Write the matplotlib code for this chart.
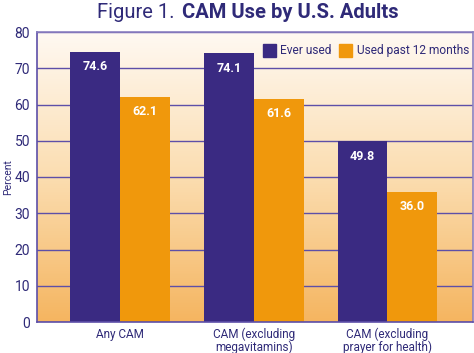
import numpy as np
from matplotlib import pyplot as plt
from matplotlib.colors import LinearSegmentedColormap
from matplotlib.patches import Patch

categories = ["Any CAM", "CAM (excluding\nmegavitamins)", "CAM (excluding\nprayer for health)"]
ever_used = [74.6, 74.1, 49.8]
past_12 = [62.1, 61.6, 36.0]
series_names = ["Ever used", "Used past 12 months"]

purple = "#3A2A82"
orange = "#F0980C"
text_col = "#2F2A78"
grid_col = "#5D4FA8"

plt.rcParams['font.family'] = ['Roboto', 'DejaVu Sans']

fig = plt.figure(figsize=(4.74, 3.53), dpi=100)
fig.patch.set_facecolor("white")
ax = fig.add_axes([37 / 474, 1 - 322 / 353, 436 / 474, 290 / 353])

# gradient background
grad = LinearSegmentedColormap.from_list("bg", ["#F5B560", "#FBDDB0", "#FFF9F2"])
x = np.arange(len(categories))
xmin, xmax = -0.62, 2.64
ax.imshow(np.linspace(0, 1, 256).reshape(-1, 1), aspect="auto", cmap=grad,
          extent=[xmin, xmax, 0, 80], origin="lower", zorder=0)

w = 0.373
b1 = ax.bar(x - w / 2, ever_used, w, color=purple, zorder=3)
b2 = ax.bar(x + w / 2, past_12, w, color=orange, zorder=3)

for bars, vals in ((b1, ever_used), (b2, past_12)):
    for b, v in zip(bars, vals):
        ax.text(b.get_x() + b.get_width() / 2, v - 2.3, f"{v:.1f}", ha="center", va="top",
                color="white", fontsize=9, fontweight="bold", zorder=4)

ax.set_xlim(xmin, xmax)
ax.set_ylim(0, 80)
ax.set_yticks(range(0, 81, 10))
ax.yaxis.grid(True, color=grid_col, linewidth=1)
for line in ax.get_ygridlines():
    line.set_zorder(1)
ax.set_xticks(x)
ax.set_xticklabels(categories, color=text_col, linespacing=0.95)
ax.tick_params(axis="both", length=0, colors=text_col, labelsize=10)
ax.tick_params(axis="x", labelsize=8.5, pad=4)
ax.tick_params(axis="y", pad=5)
for s in ax.spines.values():
    s.set_color("#8B80C0")
    s.set_linewidth(1.2)
    s.set_zorder(5)
ax.spines["bottom"].set_color(grid_col)
ax.spines["left"].set_color(grid_col)

ax.set_ylabel("Percent", fontsize=7.5, color=text_col, labelpad=1)

handles = [Patch(color=purple), Patch(color=orange)]
ax.legend(handles, series_names, loc="upper right", frameon=False, fontsize=8.6,
          labelcolor=text_col, handlelength=1.1, handleheight=1.35, handletextpad=0.4,
          columnspacing=0.6, ncol=2, bbox_to_anchor=(1.008, 0.985), borderaxespad=0.2)

fig.text(0.205, 0.965, "Figure 1.", fontsize=14.5, color=text_col, va="center", ha="left")
fig.text(0.384, 0.965, "CAM Use by U.S. Adults", fontsize=14.5, color=text_col,
         fontweight="bold", va="center", ha="left")

fig.savefig("out.png", dpi=100)
